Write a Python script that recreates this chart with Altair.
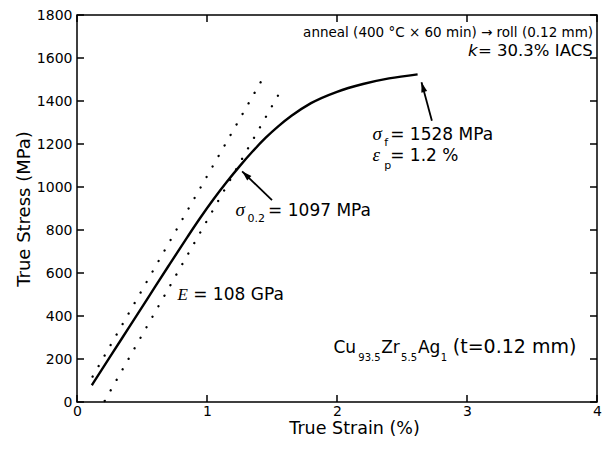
import altair as alt
import pandas as pd

# ---- data ----
curve_strain = [0.114, 0.25, 0.40, 0.55, 0.70, 0.85, 0.95, 1.05, 1.15, 1.25, 1.35, 1.45, 1.55, 1.65, 1.80, 2.00, 2.20, 2.40, 2.62]
curve_stress = [78, 206, 347, 488, 629, 768, 858, 943, 1022, 1096, 1165, 1228, 1283, 1331, 1390, 1443, 1479, 1505, 1524]

elastic_id = ["E", "E", "offset", "offset"]
elastic_strain = [0.12, 1.42, 0.213, 1.591]
elastic_stress = [118, 1495, 5, 1473]

arrow_tail_strain = [1.50, 2.73]
arrow_tail_stress = [939, 1308]
arrow_tip_strain = [1.27, 2.65]
arrow_tip_stress = [1073, 1487]
arrow_angle = [314, 344]

x_ticks = [0, 1, 2, 3, 4]
y_ticks = [0, 200, 400, 600, 800, 1000, 1200, 1400, 1600, 1800]

sans_text = ["= 1097 MPa", "0.2", "= 108 GPa", "f", "= 1528 MPa", "p", "= 1.2 %",
             "Cu", "93.5", "Zr", "5.5", "Ag", "1", "(t=0.12 mm)"]
sans_x = [1.470, 1.311, 0.894, 2.364, 2.409, 2.364, 2.409,
          1.973, 2.164, 2.340, 2.493, 2.623, 2.799, 2.891]
sans_y = [865, 838, 474, 1192, 1220, 1086, 1123,
          226, 193, 226, 193, 226, 193, 226]
sans_size = [17, 11, 17, 11, 17, 11, 17, 17, 10, 17, 10, 17, 10, 19]

greek_text = ["σ", "E", "σ", "ε"]
greek_x = [1.220, 0.773, 2.273, 2.273]
greek_y = [865, 474, 1220, 1123]
greek_size = [19, 17, 19, 19]

k_text = ["k", "= 30.3% IACS"]
k_x = [3.008, 3.085]
k_y = [1607, 1607]
k_style = ["italic", "normal"]

top_text = ["anneal (400 °C × 60 min) → roll (0.12 mm)"]
top_x = [3.97]
top_y = [1697]

FONT = "DejaVu Sans"
X_TICK_LEN = 0.0538   # 7 px in strain units
Y_TICK_LEN = 32.6     # 7 px in stress units

curve_df = pd.DataFrame({"strain": curve_strain, "stress": curve_stress})
elastic_df = pd.DataFrame({"id": elastic_id, "strain": elastic_strain, "stress": elastic_stress})
arrow_df = pd.DataFrame({"x": arrow_tail_strain, "y": arrow_tail_stress,
                         "x2": arrow_tip_strain, "y2": arrow_tip_stress, "angle": arrow_angle})
sans_df = pd.DataFrame({"t": sans_text, "x": sans_x, "y": sans_y, "s": sans_size})
greek_df = pd.DataFrame({"t": greek_text, "x": greek_x, "y": greek_y, "s": greek_size})
top_df = pd.DataFrame({"t": top_text, "x": top_x, "y": top_y})

# tick segments (inward) on all four sides
tick_rows = []
for v in x_ticks:
    tick_rows.append({"x": v, "x2": v, "y": 0, "y2": Y_TICK_LEN})
    tick_rows.append({"x": v, "x2": v, "y": 1800, "y2": 1800 - Y_TICK_LEN})
for v in y_ticks:
    tick_rows.append({"x": 0, "x2": X_TICK_LEN, "y": v, "y2": v})
    tick_rows.append({"x": 4, "x2": 4 - X_TICK_LEN, "y": v, "y2": v})
tick_df = pd.DataFrame(tick_rows)

xs = alt.Scale(domain=[0, 4], nice=False)
ys = alt.Scale(domain=[0, 1800], nice=False)

x_axis = alt.Axis(values=x_ticks, format="d", title="True Strain (%)", ticks=False, domain=False,
                  labelPadding=2, titleY=31, titleX=277, titleBaseline="alphabetic", titleFontSize=17.5,
                  labelFlush=False)
y_axis = alt.Axis(values=y_ticks, format="d", title="True Stress (MPa)", ticks=False, domain=False,
                  labelPadding=5, titlePadding=3, labelFlush=False)


def X(field):
    return alt.X(field, type="quantitative", scale=xs, axis=None)


def Y(field):
    return alt.Y(field, type="quantitative", scale=ys, axis=None)


curve = alt.Chart(curve_df).mark_line(color="black", strokeWidth=2.4, interpolate="monotone").encode(
    x=alt.X("strain:Q", scale=xs, axis=x_axis),
    y=alt.Y("stress:Q", scale=ys, axis=y_axis),
)

ticks = alt.Chart(tick_df).mark_rule(color="black", strokeWidth=1.5).encode(
    x=X("x"), y=Y("y"), x2="x2:Q", y2="y2:Q"
)

elastic = alt.Chart(elastic_df).mark_line(color="black", strokeWidth=2.3, strokeDash=[0.1, 12], strokeCap="round").encode(
    x=X("strain"), y=Y("stress"), detail="id:N"
)

arrows = alt.Chart(arrow_df).mark_rule(color="black", strokeWidth=1.8).encode(
    x=X("x"), y=Y("y"), x2="x2:Q", y2="y2:Q"
)
heads = alt.Chart(arrow_df).mark_point(shape="M0,0L0.3,1L-0.3,1Z", filled=True, color="black",
                                        opacity=1, size=400).encode(
    x=X("x2"), y=Y("y2"), angle=alt.Angle("angle:Q", scale=None)
)

sans = alt.Chart(sans_df).mark_text(font=FONT, align="left", baseline="alphabetic", color="black").encode(
    x=X("x"), y=Y("y"), text="t:N", size=alt.Size("s:Q", scale=None)
)
greek = alt.Chart(greek_df).mark_text(font="Liberation Serif", fontStyle="italic", align="left",
                                      baseline="alphabetic", color="black").encode(
    x=X("x"), y=Y("y"), text="t:N", size=alt.Size("s:Q", scale=None)
)
k_layers = []
for t, xv, yv, st in zip(k_text, k_x, k_y, k_style):
    k_layers.append(
        alt.Chart(pd.DataFrame({"t": [t], "x": [xv], "y": [yv]})).mark_text(
            font=FONT, fontStyle=st, align="left", baseline="alphabetic", color="black", fontSize=16.5
        ).encode(x=X("x"), y=Y("y"), text="t:N")
    )
toptext = alt.Chart(top_df).mark_text(font=FONT, align="right", baseline="alphabetic",
                                      color="black", fontSize=13.5).encode(x=X("x"), y=Y("y"), text="t:N")

chart = alt.layer(curve, ticks, elastic, arrows, heads, sans, greek, *k_layers, toptext).resolve_axis(
    x="independent", y="independent"
).properties(
    width=520, height=387,
    autosize=alt.AutoSizeParams(type="none"),
    padding={"left": 69, "top": 7, "right": 5, "bottom": 35},
).configure_view(stroke="black", strokeWidth=1.5).configure_axis(
    labelColor="black", labelFont=FONT, labelFontSize=14, grid=False,
    titleColor="black", titleFont=FONT, titleFontSize=18, titleFontWeight="normal",
)

chart.save("out.html", embed_options={"renderer": "svg", "actions": False})
